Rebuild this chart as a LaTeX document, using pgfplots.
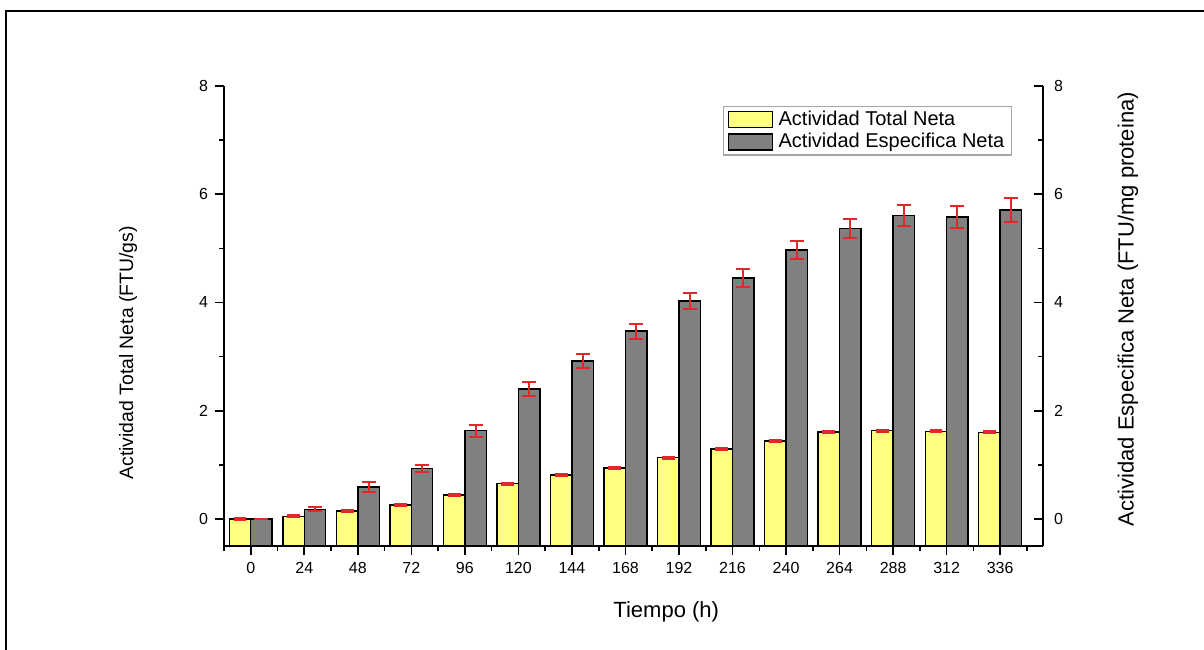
\documentclass[border=0pt]{standalone}
\usepackage{fontspec}
\setmainfont{Liberation Sans}
\usepackage{pgfplots}
\pgfplotsset{compat=1.18}
\usepackage{pgfplotstable}
\usetikzlibrary{calc}

\definecolor{barYellow}{HTML}{FFFF80}
\definecolor{barGray}{HTML}{808080}
\definecolor{errRed}{HTML}{E3262A}

% idx: sampling time index (0 h, 24 h, ..., 336 h)
\pgfplotstableread{
idx total etotal espec eespec
0   0.00  0.02   0.00  0.00
1   0.05  0.02   0.18  0.04
2   0.15  0.02   0.59  0.09
3   0.26  0.02   0.93  0.06
4   0.44  0.02   1.63  0.11
5   0.65  0.02   2.40  0.13
6   0.81  0.02   2.92  0.13
7   0.94  0.02   3.47  0.14
8   1.13  0.02   4.03  0.15
9   1.29  0.02   4.45  0.16
10  1.44  0.02   4.97  0.17
11  1.61  0.02   5.37  0.18
12  1.63  0.02   5.61  0.20
13  1.62  0.02   5.58  0.20
14  1.60  0.02   5.71  0.22
}\datatable

\pgfplotsset{
  common/.style={
    scale only axis, width=409.5pt, height=230pt,
    xmin=-0.5, xmax=14.8,
    % bars rise from the lower edge of the plot (y = -0.5)
    ymin=0, ymax=8.5,
    ytick={0.5,2.5,4.5,6.5,8.5},
    yticklabels={0,2,4,6,8},
    minor ytick={1.5,3.5,5.5,7.5},
    major tick length=4.5pt, minor tick length=2.5pt,
    every tick/.style={black, line width=0.8pt},
    tick label style={font=\fontsize{8}{9.6}\selectfont},
    /pgf/number format/assume math mode=true,
  },
  plain lines/.style={
    axis line style={-, line width=1pt},
    x axis line style={-}, y axis line style={-},
    every outer x axis line/.append style={-},
    every outer y axis line/.append style={-},
  },
}

\begin{document}
\begin{tikzpicture}
\begin{axis}[
  common,
  axis x line*=bottom, axis y line*=left,
  plain lines,
  tick align=outside,
  xtick={0,...,14},
  xticklabels={0,24,48,72,96,120,144,168,192,216,240,264,288,312,336},
  minor xtick={-0.5,0.5,...,14.5},
  minor x tick style={line width=0.8pt},
  xtick pos=bottom, ytick pos=left,
  ybar, bar width=0.4,
  y filter/.expression={y+0.5},
  xlabel={Tiempo (h)},
  xlabel style={at={(axis description cs:0.54,0)}, anchor=center, yshift=-33pt,
    font=\fontsize{11}{13}\selectfont},
  ylabel={Actividad Total Neta (FTU/gs)},
  ylabel style={at={($(axis description cs:0,0.42)+(-48pt,0)$)}, anchor=center,
    font=\fontsize{9.7}{11.5}\selectfont},
  legend style={at={(0.962,0.957)}, anchor=north east,
    draw=gray!70, line width=0.6pt,
    font=\fontsize{10}{12}\selectfont,
    inner xsep=2.3pt, inner ysep=1pt,
    nodes={inner sep=1.2pt},
    row sep=0pt, column sep=1.5pt,
    cells={anchor=west}},
]
\addplot[fill=barYellow, draw=black, line width=0.7pt, bar shift=-0.2,
  legend image code/.code={\draw[fill=barYellow, draw=black, line width=0.7pt] (0pt,-4pt) rectangle (22pt,4pt);},
  error bars/.cd, y dir=both, y explicit,
  error bar style={errRed, line width=1pt},
  error mark options={errRed, rotate=90, mark size=3.2pt, line width=1pt}]
  table[x=idx, y=total, y error=etotal]{\datatable};
\addlegendentry{Actividad Total Neta}
\addplot[fill=barGray, draw=black, line width=0.7pt, bar shift=0.2,
  legend image code/.code={\draw[fill=barGray, draw=black, line width=0.7pt] (0pt,-4pt) rectangle (22pt,4pt);},
  error bars/.cd, y dir=both, y explicit,
  error bar style={errRed, line width=1pt},
  error mark options={errRed, rotate=90, mark size=3.5pt, line width=1pt}]
  table[x=idx, y=espec, y error=eespec]{\datatable};
\addlegendentry{Actividad Especifica Neta}
\end{axis}

% right-hand scale for the specific activity
\begin{axis}[
  common,
  axis x line=none, axis y line*=right,
  plain lines,
  ytick pos=right, yticklabel pos=right,
  tick align=inside,
  yticklabel style={xshift=2pt},
  ylabel={Actividad Especifica Neta (FTU/mg proteina)},
  ylabel style={at={($(axis description cs:1,0.515)+(42.5pt,0)$)}, anchor=center,
    font=\fontsize{11}{13}\selectfont},
]
\end{axis}

\draw[line width=1.25pt] (-109pt,-60pt) -- (-109pt,267.5pt) -- (500pt,267.5pt);
\pgfresetboundingbox
\path (-112pt,-51.5pt) rectangle (490pt,273pt);
\end{tikzpicture}
\end{document}
